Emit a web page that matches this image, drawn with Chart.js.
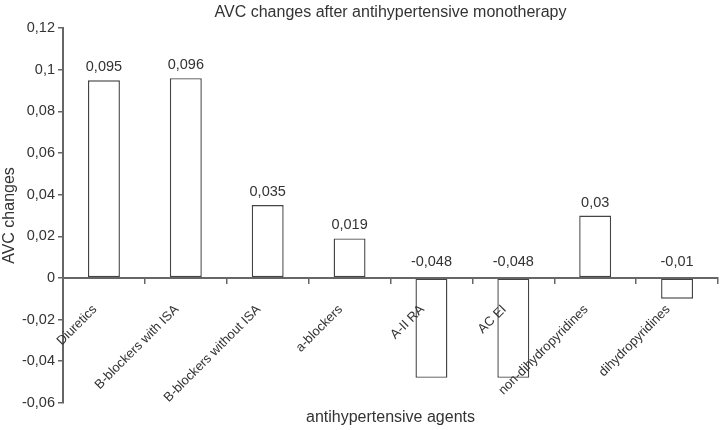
<!DOCTYPE html>
<html>
<head>
<meta charset="utf-8">
<script src="https://cdn.jsdelivr.net/npm/chart.js@4/dist/chart.umd.min.js"></script>
<style>
  html, body { margin: 0; padding: 0; background: #fff; }
  #wrap { width: 722px; height: 430px; }
</style>
</head>
<body>
<div id="wrap"><canvas id="avc-chart" width="722" height="430"></canvas></div>
<script>
// data
var categories = ['Diuretics', 'B-blockers with ISA', 'B-blockers without ISA', 'a-blockers',
                  'A-II RA', 'AC EI', 'non-dihydropyridines', 'dihydropyridines'];
var avcChanges = [0.095, 0.096, 0.035, 0.019, -0.048, -0.048, 0.03, -0.01];
var yMin = -0.06;
var yMax = 0.12;
var yStep = 0.02;

var FONT = 'Liberation Sans, Arial, Helvetica, sans-serif';
var TEXT = '#333';
var AXIS = '#666';

function comma(v) {
  var r = Math.round(v * 1000) / 1000;
  return String(r).replace('.', ',');
}

// value labels above each bar (negative ones sit above the zero line)
var valueLabels = {
  id: 'valueLabels',
  afterDatasetsDraw: function (chart) {
    var ctx = chart.ctx;
    var zero = chart.scales.y.getPixelForValue(0);
    var meta = chart.getDatasetMeta(0);
    ctx.save();
    ctx.font = '14.5px ' + FONT;
    ctx.fillStyle = TEXT;
    ctx.textAlign = 'center';
    ctx.textBaseline = 'alphabetic';
    meta.data.forEach(function (bar, i) {
      var v = avcChanges[i];
      var y = v >= 0 ? bar.y - 9 : zero - 12;
      ctx.fillText(comma(v), bar.x, y);
    });
    ctx.restore();
  }
};

var chartContext = document.getElementById('avc-chart');
var avcChart = new Chart(chartContext, {
  type: 'bar',
  data: {
    labels: categories,
    datasets: [{
      data: avcChanges,
      backgroundColor: '#fff',
      borderColor: '#444',
      borderWidth: 1.4,
      borderSkipped: false,
      categoryPercentage: 1,
      barPercentage: 0.39
    }]
  },
  options: {
    responsive: false,
    animation: false,
    devicePixelRatio: 1,
    layout: { padding: { top: 3, right: 4, bottom: 0, left: 0 } },
    plugins: {
      legend: { display: false },
      tooltip: { enabled: false },
      title: {
        display: true,
        fullSize: false,
        text: 'AVC changes after antihypertensive monotherapy',
        color: TEXT,
        font: { family: FONT, size: 16, weight: 'normal' },
        padding: { top: 0, bottom: 6 }
      },
      subtitle: {
        display: true,
        position: 'bottom',
        fullSize: false,
        text: 'antihypertensive agents',
        color: TEXT,
        font: { family: FONT, size: 16, weight: 'normal' },
        padding: { top: 5, bottom: 3 }
      }
    },
    scales: {
      x: {
        position: { y: 0 },
        offset: true,
        grid: {
          offset: true,
          z: 1,
          drawOnChartArea: false,
          drawTicks: true,
          tickLength: 5,
          color: AXIS,
          lineWidth: 1.5
        },
        border: { display: true, z: 1, color: AXIS, width: 2 },
        ticks: {
          z: 1,
          autoSkip: false,
          minRotation: 45,
          maxRotation: 45,
          padding: 19,
          labelOffset: -9,
          color: TEXT,
          font: { family: FONT, size: 13 }
        }
      },
      y: {
        min: yMin,
        max: yMax,
        afterFit: function (scale) { scale.width = 63; },
        grid: {
          drawOnChartArea: false,
          drawTicks: true,
          tickLength: 5,
          color: AXIS,
          lineWidth: 1.5
        },
        border: { display: true, color: AXIS, width: 2 },
        ticks: {
          stepSize: yStep,
          padding: 3,
          color: TEXT,
          font: { family: FONT, size: 14.5 },
          callback: function (v) { return comma(v); }
        },
        title: {
          display: true,
          text: 'AVC changes',
          color: TEXT,
          font: { family: FONT, size: 16 },
          padding: { top: 0, bottom: 0 }
        }
      }
    }
  },
  plugins: [valueLabels]
});
</script>
</body>
</html>
